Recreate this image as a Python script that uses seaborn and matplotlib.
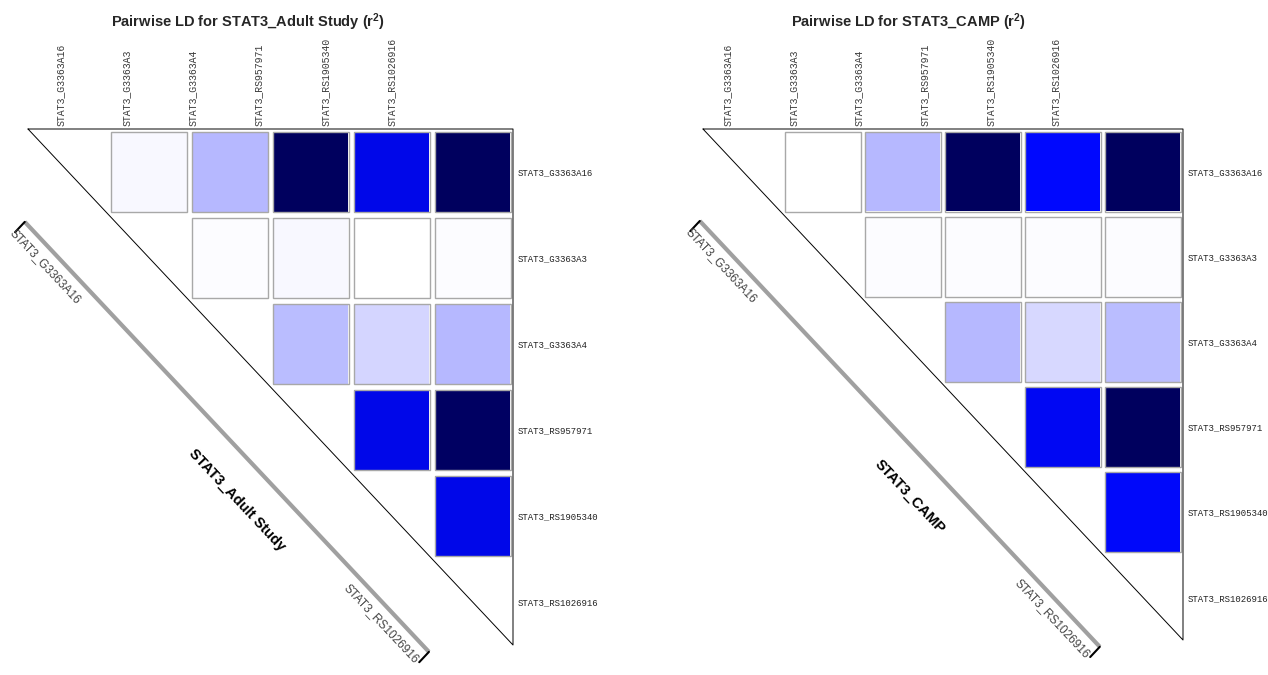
import numpy as np
import pandas as pd
import matplotlib
matplotlib.use("Agg")
import matplotlib.pyplot as plt
import seaborn as sns
from matplotlib.colors import LinearSegmentedColormap
from matplotlib.patches import Rectangle

sns.set_style("white")
plt.rcParams['font.family'] = ['Liberation Sans', 'DejaVu Sans']
plt.rcParams['mathtext.fontset'] = 'custom'
plt.rcParams['mathtext.rm'] = 'Liberation Sans:bold'
plt.rcParams['mathtext.it'] = 'Liberation Sans:bold'
plt.rcParams['mathtext.bf'] = 'Liberation Sans:bold'

snps = ["STAT3_G3363A16", "STAT3_G3363A3", "STAT3_G3363A4",
        "STAT3_RS957971", "STAT3_RS1905340", "STAT3_RS1026916"]

# pairwise r^2, upper triangle read row by row (columns to the right of the diagonal)
adult_r2 = [
    [0.02, 0.20, 1.00, 0.74, 1.00],
    [0.01, 0.02, 0.00, 0.01],
    [0.19, 0.12, 0.20],
    [0.74, 0.99],
    [0.74],
]
camp_r2 = [
    [0.00, 0.20, 1.00, 0.70, 1.00],
    [0.01, 0.01, 0.01, 0.01],
    [0.20, 0.11, 0.19],
    [0.72, 1.00],
    [0.71],
]
studies = ["STAT3_Adult Study", "STAT3_CAMP"]

ld_cmap = LinearSegmentedColormap.from_list(
    "ld", [(0.0, "#ffffff"), (0.7, "#0008ff"), (1.0, "#00005e")])


def to_frame(rows):
    n = len(snps)
    m = np.full((n, n), np.nan)
    for i, r in enumerate(rows):
        m[i, i + 1:] = r
    return pd.DataFrame(m, index=snps, columns=snps)


fig = plt.figure(figsize=(12.68, 6.75), dpi=100)
# axes rects in figure fraction, x-offset of the rotated column labels, title centre (px)
panels = [
    ([28 / 1268, 1 - 645 / 675, 485 / 1268, 516 / 675], 0.40, 248),
    ([703 / 1268, 1 - 640 / 675, 480 / 1268, 511 / 675], 0.31, 909),
]

for (rect, lab0, title_x), study, vals in zip(panels, studies, [adult_r2, camp_r2]):
    ax = fig.add_axes(rect)
    df = to_frame(vals)
    n = len(snps)
    sns.heatmap(df, cmap=ld_cmap, vmin=0, vmax=1, cbar=False,
                linewidths=3, linecolor="white",
                xticklabels=False, yticklabels=False, ax=ax)
    ax.set_xlim(0, n)
    ax.set_ylim(n, 0)

    # grey outline round every filled cell
    for i in range(n):
        for j in range(n):
            if not np.isnan(df.iat[i, j]):
                ax.add_patch(Rectangle((j + 0.03, i + 0.03), 0.94, 0.94,
                                       fill=False, ec="#a8a8a8", lw=1))

    # triangle frame
    ax.plot([0, n, n, 0], [0, 0, n, 0], color="black", lw=0.7, clip_on=False)

    # column labels on top, row labels on the right
    ax.set_xticks(lab0 + 0.82 * np.arange(n))
    ax.set_xticklabels(snps, rotation=90, fontsize=7.1,
                       family="Liberation Mono", color="#3a3a3a")
    ax.set_yticks(np.arange(n) + 0.5)
    ax.set_yticklabels(snps, rotation=0, fontsize=6.5,
                       family="Liberation Mono", color="#222222")
    ax.tick_params(axis="x", top=True, bottom=False, labeltop=True,
                   labelbottom=False, length=0, pad=2)
    ax.tick_params(axis="y", left=False, right=True, labelleft=False,
                   labelright=True, length=0, pad=3)

    # diagonal marker bar, parallel to the hypotenuse
    p0 = ax.transData.transform((0, 0))
    p1 = ax.transData.transform((n, n))
    ang = np.degrees(np.arctan2(p1[1] - p0[1], p1[0] - p0[0]))

    def pt(t, d):
        return t - d, t + d

    t0, t1, d = 0.52, 5.52, 0.56
    (xa, ya), (xb, yb) = pt(t0, d), pt(t1, d)
    ax.plot([xa, xb], [ya, yb], color="#a0a0a0", lw=3,
            solid_capstyle="butt", clip_on=False)
    for x, y in [(xa, ya), (xb, yb)]:
        ax.plot([x, x - 0.12], [y, y + 0.12], color="black", lw=1.5,
                clip_on=False)

    x, y = pt(0.5, 0.64)
    ax.text(x, y, snps[0], rotation=ang, rotation_mode="anchor",
            ha="left", va="top", fontsize=8.5, color="#444444")
    x, y = pt(5.5, 0.64)
    ax.text(x, y, snps[-1], rotation=ang, rotation_mode="anchor",
            ha="right", va="top", fontsize=8.5, color="#444444")
    x, y = pt(3.45, 0.86)
    ax.text(x, y, study, rotation=ang, rotation_mode="anchor",
            ha="center", va="center", fontsize=10.5, fontweight="bold",
            color="black")

    fig.text(title_x / 1268, 1 - 22 / 675, f"Pairwise LD for {study} (r$^2$)",
             ha="center", va="center", fontsize=10.5, fontweight="bold")

fig.savefig("out.png", dpi=100)
